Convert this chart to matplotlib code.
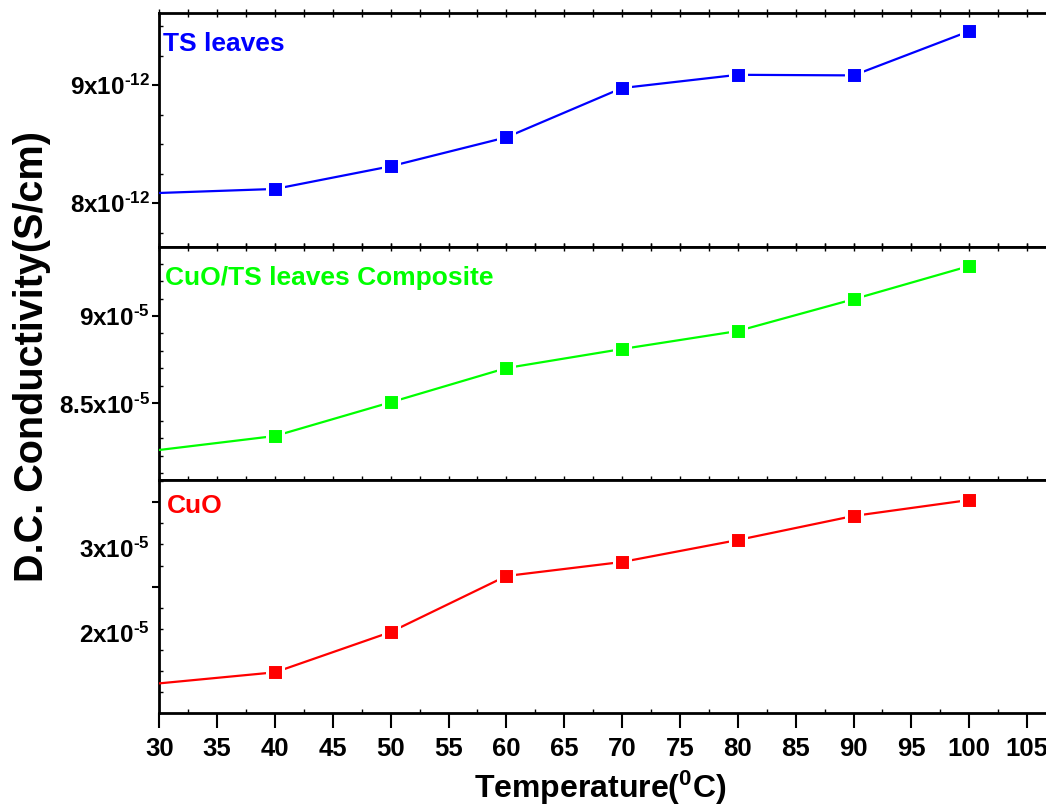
import matplotlib
matplotlib.use('Agg')
import matplotlib.pyplot as plt
from matplotlib.ticker import MultipleLocator, FixedLocator, FuncFormatter
from matplotlib.transforms import ScaledTranslation

# ---- data (conductivity in S/cm, shown as mantissa of the panel exponent) ----
temperature = [30, 40, 50, 60, 70, 80, 90, 100]
ts_leaves = [8.087, 8.121, 8.313, 8.558, 8.975, 9.087, 9.082, 9.456]      # x1e-12
composite = [8.233, 8.313, 8.506, 8.702, 8.811, 8.914, 9.096, 9.286]      # x1e-5
cuo = [0.855, 0.986, 1.463, 2.127, 2.293, 2.553, 2.838, 3.027]            # x1e-5

panel_names = ['TS leaves', 'CuO/TS leaves Composite', 'CuO']
panel_colors = ['#0000ff', '#00ff00', '#ff0000']
panel_exponents = [-12, -5, -5]
x_ticks = [30, 35, 40, 45, 50, 55, 60, 65, 70, 75, 80, 85, 90, 95, 100, 105]

plt.rcParams['font.family'] = ['Liberation Sans', 'DejaVu Sans']
plt.rcParams['font.weight'] = 'bold'
plt.rcParams['mathtext.fontset'] = 'custom'
plt.rcParams['mathtext.bf'] = 'Liberation Sans:bold'
plt.rcParams['mathtext.rm'] = 'Liberation Sans:bold'
plt.rcParams['mathtext.default'] = 'bf'

W, H = 1046, 807
fig = plt.figure(figsize=(W / 100, H / 100), dpi=100)
left = 159.3 / W
bounds_px = [(13, 246.5), (246.5, 480), (480, 713)]
ylims = [(7.634, 9.610), (8.061, 9.398), (0.504, 3.264)]
major_locs = [MultipleLocator(1), MultipleLocator(0.5), FixedLocator([2, 3])]
minor_locs = [MultipleLocator(0.25), MultipleLocator(0.1), MultipleLocator(0.25)]
series = [ts_leaves, composite, cuo]
label_pos = [(0.004, 0.837), (0.006, 0.835), (0.008, 0.8565)]

axes = []
for i, (t, b) in enumerate(bounds_px):
    ax = fig.add_axes([left, 1 - b / H, 1 - left, (b - t) / H],
                      sharex=axes[0] if axes else None)
    axes.append(ax)
    ax.plot(temperature, series[i], color=panel_colors[i], lw=1.6,
            marker='s', ms=11.8, mfc=panel_colors[i], mec='white', mew=2.2,
            markevery=slice(1, None), zorder=3)
    ax.set_ylim(*ylims[i])
    ax.set_xlim(30, 30 + (W - 159.3) / (115.7 / 10))
    ax.yaxis.set_major_locator(major_locs[i])
    ax.yaxis.set_minor_locator(minor_locs[i])
    exp = panel_exponents[i]
    ax.yaxis.set_major_formatter(
        FuncFormatter(lambda v, p, e=exp: f'{v:g}x10$^{{\\text{{{e}}}}}$'))
    ax.tick_params(axis='y', which='major', direction='out', length=5,
                   width=1.5, labelsize=17.5, pad=2, right=False)
    ax.tick_params(axis='y', which='minor', direction='in', length=3,
                   width=1.0, right=False)
    ax.spines['right'].set_visible(False)
    for s in ['left', 'top', 'bottom']:
        ax.spines[s].set_linewidth(2.0)
    ax.text(label_pos[i][0], label_pos[i][1], panel_names[i],
            transform=ax.transAxes, color=panel_colors[i], fontsize=19,
            fontweight='bold', ha='left', va='baseline')

for ax in axes[:2]:
    ax.tick_params(axis='x', which='both', direction='inout', length=6,
                   width=1.0, top=True, bottom=True, labelbottom=False)

ax3 = axes[2]
ax3.xaxis.set_major_locator(FixedLocator(x_ticks))
ax3.xaxis.set_minor_locator(MultipleLocator(2.5))
ax3.tick_params(axis='x', which='major', direction='out', length=11,
                width=1.5, labelsize=18.5, pad=6, top=False)
ax3.tick_params(axis='x', which='minor', direction='in', length=3,
                width=1.0, top=False)

fig.text(32 / W, 1 - 357 / H, 'D.C. Conductivity(S/cm)', rotation=90,
         ha='center', va='center', fontsize=28.5, fontweight='bold')
fig.text(600 / W, 1 - 788 / H, r'Temperature($^{0}$C)', ha='center',
         va='center', fontsize=23, fontweight='bold')

fig.canvas.draw()
offset = ScaledTranslation(0, -46 / 100, fig.dpi_scale_trans)
for lab in ax3.get_yticklabels():
    lab.set_transform(lab.get_transform() + offset)

fig.savefig('out.png', dpi=100)
